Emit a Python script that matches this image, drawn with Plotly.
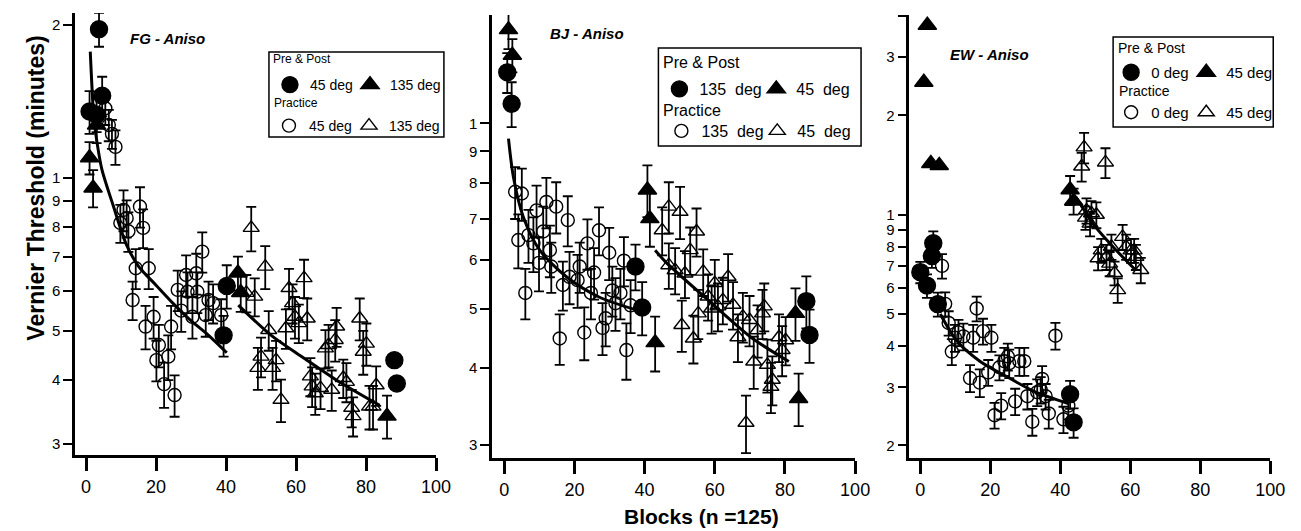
import plotly.graph_objects as go

# ── Data (minutes) ───────────────────────────────────────────────────────────

# FG - Aniso
fg_pre_circ_x = [1.0, 3.0, 3.7, 4.6, 39.3, 40.2, 88.1, 88.8]
fg_pre_circ_y = [1.35, 1.33, 1.96, 1.45, 0.49, 0.613, 0.438, 0.394]
fg_pre_circ_e = [0.13, 0.1, 0.15, 0.13, 0.045, 0.06, 0.0, 0.0]

fg_pre_tri_x = [1.0, 2.0, 3.0, 43.4, 44.2, 86.0]
fg_pre_tri_y = [1.095, 0.955, 1.27, 0.65, 0.595, 0.34]
fg_pre_tri_e = [0.08, 0.08, 0.1, 0.05, 0.05, 0.033]

fg_prac_circ_x = [5.5, 6.5, 7.4, 8.4, 9.8, 10.7, 11.6, 12.1, 13.3, 14.2, 15.4, 16.3, 17.0,
                  17.9, 19.3, 20.1, 20.8, 22.3, 23.5, 24.3, 25.3, 26.2, 27.2, 28.6, 29.0,
                  30.4, 31.5, 31.8, 33.2, 34.2, 35.0, 36.3, 38.6]
fg_prac_circ_y = [1.37, 1.27, 1.22, 1.15, 0.815, 0.865, 0.833, 0.785, 0.575, 0.664, 0.878,
                  0.797, 0.51, 0.664, 0.533, 0.438, 0.469, 0.393, 0.445, 0.51, 0.374, 0.602,
                  0.548, 0.644, 0.597, 0.533, 0.649, 0.597, 0.716, 0.537, 0.575, 0.567, 0.537]
fg_prac_circ_e = [0.1, 0.09, 0.08, 0.09, 0.07, 0.08, 0.07, 0.07, 0.05, 0.06, 0.08, 0.07, 0.05,
                  0.06, 0.05, 0.04, 0.045, 0.04, 0.045, 0.05, 0.035, 0.055, 0.05, 0.06, 0.055,
                  0.05, 0.06, 0.055, 0.065, 0.05, 0.05, 0.05, 0.04]

fg_prac_tri_x = [45.8, 47.2, 48.2, 49.1, 50.0, 51.2, 52.2, 53.3, 54.3, 55.7, 57.1, 58.0, 59.0,
                 59.7, 60.8, 62.3, 63.2, 64.1, 64.6, 65.5, 67.0, 68.4, 69.3, 70.2, 71.2, 71.6,
                 73.5, 74.4, 75.9, 76.3, 78.2, 79.2, 80.1, 81.0, 82.0, 82.9]
fg_prac_tri_y = [0.594, 0.797, 0.584, 0.423, 0.445, 0.669, 0.502, 0.423, 0.438, 0.366, 0.506,
                 0.607, 0.567, 0.533, 0.518, 0.635, 0.529, 0.407, 0.389, 0.377, 0.386, 0.462,
                 0.469, 0.383, 0.48, 0.51, 0.404, 0.397, 0.353, 0.34, 0.529, 0.455, 0.472,
                 0.355, 0.355, 0.391]
fg_prac_tri_e = [0.05, 0.08, 0.05, 0.04, 0.04, 0.065, 0.045, 0.04, 0.04, 0.035, 0.045, 0.055,
                 0.05, 0.05, 0.045, 0.055, 0.05, 0.035, 0.035, 0.035, 0.035, 0.04, 0.045,
                 0.035, 0.045, 0.045, 0.035, 0.035, 0.03, 0.03, 0.05, 0.045, 0.045, 0.035,
                 0.035, 0.035]

fg_fit1_x = [1.2, 2.2, 3.0, 4.5, 7.8, 11.5, 15.0, 20.0, 25.0, 29.4, 35.0, 40.2]
fg_fit1_y = [1.77, 1.32, 1.19, 1.04, 0.88, 0.74, 0.67, 0.615, 0.565, 0.528, 0.49, 0.453]
fg_fit2_x = [43.5, 52.9, 62.3, 71.6, 83.9]
fg_fit2_y = [0.562, 0.49, 0.442, 0.40, 0.357]

# BJ - Aniso
bj_pre_circ_x = [0.85, 2.1, 37.4, 39.3, 86.1, 87.0]
bj_pre_circ_y = [1.21, 1.076, 0.585, 0.502, 0.514, 0.453]
bj_pre_circ_e = [0.09, 0.09, 0.05, 0.05, 0.05, 0.045]

bj_pre_tri_x = [1.2, 2.3, 40.8, 41.5, 43.0, 83.0, 83.9]
bj_pre_tri_y = [1.42, 1.29, 0.779, 0.70, 0.44, 0.491, 0.357]
bj_pre_tri_e = [0.1, 0.08, 0.075, 0.07, 0.045, 0.048, 0.035]

bj_prac_circ_x = [3.1, 4.0, 5.0, 6.0, 6.9, 8.3, 9.2, 9.9, 11.1, 12.0, 13.0, 13.4, 14.8, 15.8,
                  16.7, 18.1, 18.6, 20.9, 21.5, 22.8, 23.7, 24.7, 25.6, 27.0, 28.0, 28.9, 29.9,
                  30.8, 31.7, 33.1, 34.1, 34.8, 36.0]
bj_prac_circ_y = [0.774, 0.646, 0.769, 0.53, 0.658, 0.638, 0.722, 0.593, 0.667, 0.745, 0.622,
                  0.585, 0.732, 0.447, 0.546, 0.696, 0.563, 0.556, 0.585, 0.457, 0.638, 0.53,
                  0.572, 0.67, 0.465, 0.482, 0.616, 0.535, 0.51, 0.53, 0.598, 0.428, 0.506]
bj_prac_circ_e = [0.075, 0.065, 0.075, 0.05, 0.065, 0.065, 0.07, 0.06, 0.065, 0.07, 0.06, 0.055,
                  0.07, 0.042, 0.05, 0.065, 0.055, 0.055, 0.055, 0.045, 0.06, 0.05, 0.055, 0.06,
                  0.045, 0.048, 0.06, 0.05, 0.05, 0.05, 0.055, 0.045, 0.05]

bj_prac_tri_x = [45.0, 46.9, 46.9, 48.7, 50.1, 50.6, 51.5, 53.0, 53.9, 54.8, 55.3, 56.7, 58.1,
                 59.1, 60.0, 60.9, 62.3, 63.8, 65.2, 66.6, 68.0, 68.9, 69.9, 71.1, 72.2, 73.6,
                 74.1, 75.0, 76.0, 76.4, 78.3, 79.2, 80.2]
bj_prac_tri_y = [0.67, 0.732, 0.588, 0.577, 0.718, 0.47, 0.57, 0.622, 0.447, 0.667, 0.491,
                 0.574, 0.523, 0.50, 0.55, 0.504, 0.516, 0.563, 0.507, 0.449, 0.485, 0.326,
                 0.479, 0.41, 0.461, 0.491, 0.504, 0.405, 0.373, 0.383, 0.449, 0.428, 0.444]
bj_prac_tri_e = [0.06, 0.07, 0.05, 0.05, 0.07, 0.045, 0.05, 0.055, 0.04, 0.06, 0.045, 0.05,
                 0.045, 0.045, 0.05, 0.045, 0.045, 0.05, 0.045, 0.04, 0.045, 0.035, 0.045,
                 0.04, 0.045, 0.045, 0.045, 0.04, 0.035, 0.035, 0.04, 0.04, 0.04]

bj_fit1_x = [1.2, 2.6, 5.4, 10.1, 17.7, 27.0, 37.8]
bj_fit1_y = [0.944, 0.818, 0.705, 0.622, 0.563, 0.522, 0.497]
bj_fit2_x = [43.0, 45.9, 58.1, 70.3, 81.1]
bj_fit2_y = [0.622, 0.596, 0.516, 0.449, 0.41]

# EW - Aniso
ew_pre_circ_x = [0.0, 1.9, 3.3, 3.7, 5.0, 42.8, 43.8]
ew_pre_circ_y = [0.67, 0.61, 0.75, 0.82, 0.536, 0.286, 0.235]
ew_pre_circ_e = [0.05, 0.05, 0.06, 0.07, 0.045, 0.028, 0.024]

ew_pre_tri_x = [1.0, 2.0, 3.0, 5.4, 42.8, 43.8]
ew_pre_tri_y = [2.52, 3.75, 1.43, 1.41, 1.19, 1.10]
ew_pre_tri_e = [0.0, 0.0, 0.0, 0.0, 0.12, 0.1]

ew_prac_circ_x = [6.2, 7.1, 8.1, 9.0, 9.9, 10.9, 12.3, 14.2, 15.1, 16.1, 17.0, 17.9, 19.4,
                  20.3, 21.2, 22.6, 23.1, 24.0, 25.0, 25.4, 27.1, 28.3, 29.7, 30.6, 32.0,
                  33.4, 34.4, 34.8, 35.8, 36.7, 38.6, 40.9, 42.3]
ew_prac_circ_y = [0.70, 0.537, 0.47, 0.385, 0.424, 0.44, 0.428, 0.32, 0.424, 0.52, 0.31,
                  0.444, 0.333, 0.424, 0.247, 0.345, 0.264, 0.36, 0.372, 0.355, 0.272, 0.36,
                  0.36, 0.282, 0.236, 0.29, 0.295, 0.318, 0.282, 0.25, 0.43, 0.24, 0.264]
ew_prac_circ_e = [0.06, 0.045, 0.04, 0.035, 0.04, 0.04, 0.04, 0.03, 0.04, 0.045, 0.03, 0.04,
                  0.03, 0.04, 0.022, 0.03, 0.024, 0.035, 0.035, 0.035, 0.025, 0.035, 0.035,
                  0.025, 0.022, 0.027, 0.027, 0.03, 0.025, 0.025, 0.04, 0.022, 0.024]

ew_prac_tri_x = [46.1, 46.8, 47.2, 47.5, 48.5, 48.9, 50.3, 50.8, 51.7, 52.9, 53.2, 54.1, 54.6,
                 55.5, 56.4, 57.8, 58.8, 60.2, 61.1, 61.6, 63.0]
ew_prac_tri_y = [1.40, 1.60, 0.98, 1.03, 0.94, 1.01, 1.0, 0.738, 0.78, 1.44, 0.745, 0.711,
                 0.80, 0.666, 0.591, 0.857, 0.80, 0.78, 0.78, 0.745, 0.68]
ew_prac_tri_e = [0.14, 0.17, 0.08, 0.09, 0.08, 0.09, 0.09, 0.06, 0.065, 0.15, 0.065, 0.06,
                 0.07, 0.055, 0.05, 0.075, 0.07, 0.065, 0.065, 0.065, 0.06]

ew_fit1_x = [5.7, 10.4, 17.0, 24.5, 33.0, 42.3]
ew_fit1_y = [0.50, 0.415, 0.36, 0.324, 0.29, 0.268]
ew_fit2_x = [44.5, 50.0, 55.5, 61.5]
ew_fit2_y = [1.13, 0.92, 0.79, 0.68]

# tick labels
x_ticks = [0, 20, 40, 60, 80, 100]
fg_yticks = [0.3, 0.4, 0.5, 0.6, 0.7, 0.8, 0.9, 1, 2]
fg_ytext = ["3", "4", "5", "6", "7", "8", "9", "1", "2"]
bj_yticks = [0.3, 0.4, 0.5, 0.6, 0.7, 0.8, 0.9, 1]
bj_ytext = ["3", "4", "5", "6", "7", "8", "9", "1"]
ew_yticks = [0.2, 0.3, 0.4, 0.5, 0.6, 0.7, 0.8, 0.9, 1, 2, 3, 4]
ew_ytext = ["2", "3", "4", "5", "6", "7", "8", "9", "1", "2", "3", "4"]

# ── Layout helpers (positions in window pixels) ───────────────────────────────
# the page shows the figure 8px lower than its own top, so vertical positions
# are shifted up by that amount

TOP = 8
W, H = 1301, 531
FONT = "Liberation Sans, Arial, Helvetica, sans-serif"


def fx(p):
    return p / W


def fy(p):
    return 1 - (p - TOP) / H


fig = go.Figure()


def add_pts(n, x, y, e, symbol, size, legend, label):
    fig.add_trace(go.Scatter(
        x=x, y=y, mode="markers", name=label,
        xaxis="x" if n == 1 else f"x{n}", yaxis="y" if n == 1 else f"y{n}",
        legend=legend, cliponaxis=False,
        marker=dict(symbol=symbol, size=size, color="black",
                    line=dict(color="black", width=1.4)),
        error_y=dict(type="data", array=e, color="black", thickness=1.8, width=5),
    ))


def add_fit(n, x, y):
    fig.add_trace(go.Scatter(
        x=x, y=y, mode="lines", showlegend=False, hoverinfo="skip",
        xaxis="x" if n == 1 else f"x{n}", yaxis="y" if n == 1 else f"y{n}",
        line=dict(color="black", width=3, shape="spline", smoothing=0.8),
    ))


NB = "\u00a0"

# FG
add_pts(1, fg_prac_circ_x, fg_prac_circ_y, fg_prac_circ_e, "circle-open", 13, "legend3", "45 deg")
add_pts(1, fg_prac_tri_x, fg_prac_tri_y, fg_prac_tri_e, "triangle-up-open", 14, "legend4", "135 deg")
add_pts(1, fg_pre_circ_x, fg_pre_circ_y, fg_pre_circ_e, "circle", 17, "legend", "45 deg")
add_pts(1, fg_pre_tri_x, fg_pre_tri_y, fg_pre_tri_e, "triangle-up", 16, "legend2", "135 deg")
add_fit(1, fg_fit1_x, fg_fit1_y)
add_fit(1, fg_fit2_x, fg_fit2_y)

# BJ
add_pts(2, bj_prac_circ_x, bj_prac_circ_y, bj_prac_circ_e, "circle-open", 13, "legend7", "135" + NB + " deg")
add_pts(2, bj_prac_tri_x, bj_prac_tri_y, bj_prac_tri_e, "triangle-up-open", 14, "legend8", "45" + NB + " deg")
add_pts(2, bj_pre_circ_x, bj_pre_circ_y, bj_pre_circ_e, "circle", 17, "legend5", "135" + NB + " deg")
add_pts(2, bj_pre_tri_x, bj_pre_tri_y, bj_pre_tri_e, "triangle-up", 16, "legend6", "45" + NB + " deg")
add_fit(2, bj_fit1_x, bj_fit1_y)
add_fit(2, bj_fit2_x, bj_fit2_y)

# EW
add_pts(3, ew_prac_circ_x, ew_prac_circ_y, ew_prac_circ_e, "circle-open", 13, "legend11", "0 deg")
add_pts(3, ew_prac_tri_x, ew_prac_tri_y, ew_prac_tri_e, "triangle-up-open", 14, "legend12", "45 deg")
add_pts(3, ew_pre_circ_x, ew_pre_circ_y, ew_pre_circ_e, "circle", 17, "legend9", "0 deg")
add_pts(3, ew_pre_tri_x, ew_pre_tri_y, ew_pre_tri_e, "triangle-up", 16, "legend10", "45 deg")
add_fit(3, ew_fit1_x, ew_fit1_y)
add_fit(3, ew_fit2_x, ew_fit2_y)


def xaxis(left, right, rng, anchor):
    return dict(domain=[fx(left), fx(right)], range=rng, anchor=anchor,
                tickvals=x_ticks, showline=True, linecolor="black", linewidth=2.8,
                ticks="outside", ticklen=13, tickwidth=2.5, tickcolor="black",
                tickfont=dict(size=18, color="black", family=FONT), ticklabelstandoff=0,
                showgrid=False, zeroline=False, fixedrange=True)


def yaxis(top, bottom, rng, anchor, vals, text):
    return dict(domain=[fy(bottom), fy(top)], range=rng, type="log", anchor=anchor,
                tickvals=vals, ticktext=text, showline=True, linecolor="black",
                linewidth=2.8, ticks="outside", ticklen=9, tickwidth=2, tickcolor="black",
                tickfont=dict(size=15, color="black", family=FONT),
                showgrid=False, zeroline=False, fixedrange=True)


def entry(cx, cy, size):
    # one legend per key, placed by the centre of its symbol
    return dict(x=fx(cx - 21), y=fy(cy - 14), xanchor="left", yanchor="top",
                orientation="h", font=dict(size=size, family=FONT, color="black"),
                bgcolor="rgba(0,0,0,0)", borderwidth=0, itemwidth=30,
                itemclick=False, itemdoubleclick=False)


def label(text, left, cy, size):
    return dict(text=text, x=fx(left), y=fy(cy), xref="paper", yref="paper",
                xanchor="left", yanchor="middle", showarrow=False,
                font=dict(size=size, family=FONT, color="black"))


def centred(text, cx, cy, size, angle=0, yanchor="middle"):
    return dict(text=text, x=fx(cx), y=fy(cy), xref="paper", yref="paper",
                xanchor="center", yanchor=yanchor, showarrow=False, textangle=angle,
                font=dict(size=size, family=FONT, color="black"))


def box(x0, y0, x1, y1):
    return dict(type="rect", xref="paper", yref="paper", x0=fx(x0), x1=fx(x1),
                y0=fy(y0), y1=fy(y1), line=dict(color="black", width=1.5))


fig.update_layout(
    width=W, height=H, autosize=False,
    margin=dict(l=0, r=0, t=0, b=0),
    paper_bgcolor="white", plot_bgcolor="white",
    font=dict(family=FONT, color="black"),
    xaxis=xaxis(68, 433, [-3.1, 100], "y"),
    yaxis=yaxis(13, 455, [-0.545, 0.324], "x", fg_yticks, fg_ytext),
    xaxis2=xaxis(490, 857, [-3.4, 100], "y2"),
    yaxis2=yaxis(15, 458, [-0.544, 0.176], "x2", bj_yticks, bj_ytext),
    xaxis3=xaxis(912, 1277, [-3.1, 100], "y3"),
    yaxis3=yaxis(15, 458, [-0.737, 0.605], "x3", ew_yticks, ew_ytext),
    legend=entry(286, 83, 14), legend2=entry(367, 83, 14),
    legend3=entry(285, 124, 14), legend4=entry(366, 124, 14),
    legend5=entry(680, 86, 16), legend6=entry(778, 86, 16),
    legend7=entry(682, 128, 16), legend8=entry(779, 128, 16),
    legend9=entry(1137, 70, 15), legend10=entry(1213, 70, 15),
    legend11=entry(1137, 110, 15), legend12=entry(1213, 110, 15),
    shapes=[box(264, 52, 441, 137), box(658, 48, 863, 146), box(1118, 37, 1280, 127)],
    annotations=[
        label("Pre & Post", 266, 59, 12), label("Practice", 267, 103, 12),
        label("Pre & Post", 661, 63, 16), label("Practice", 661, 110, 16),
        label("Pre & Post", 1121, 48, 14), label("Practice", 1122, 91, 14),
        centred("<b><i>FG - Aniso</i></b>", 161, 38, 15),
        centred("<b><i>BJ - Aniso</i></b>", 586, 33, 15),
        centred("<b><i>EW - Aniso</i></b>", 993, 54, 15),
        centred("<b>Vernier Threshold (minutes)</b>", 28, 188, 23, -90),
        centred("<b>Blocks (n =125)</b>", 702, 530, 21, yanchor="bottom"),
    ],
)

fig.write_html("out.html")
